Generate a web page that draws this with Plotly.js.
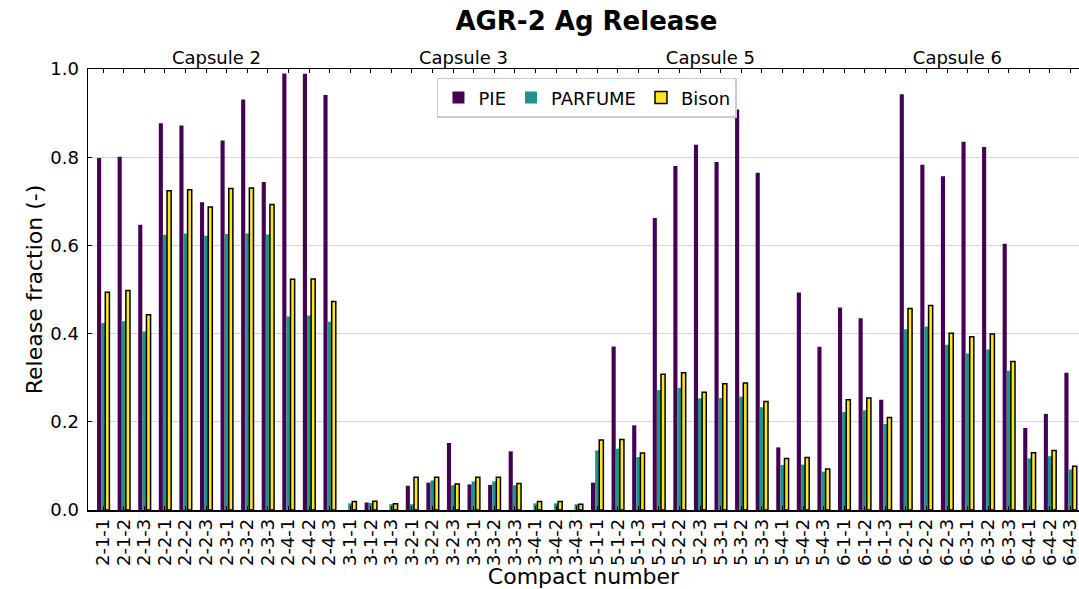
<!DOCTYPE html>
<html>
<head>
<meta charset="utf-8">
<script src="https://cdn.plot.ly/plotly-3.0.1.min.js"></script>
<style>html,body{margin:0;padding:0;background:#fff;}#chart{width:1079px;height:589px;}</style>
</head>
<body>
<div id="chart"></div>
<script>
const compacts = ["2-1-1","2-1-2","2-1-3","2-2-1","2-2-2","2-2-3","2-3-1","2-3-2","2-3-3","2-4-1","2-4-2","2-4-3",
  "3-1-1","3-1-2","3-1-3","3-2-1","3-2-2","3-2-3","3-3-1","3-3-2","3-3-3","3-4-1","3-4-2","3-4-3",
  "5-1-1","5-1-2","5-1-3","5-2-1","5-2-2","5-2-3","5-3-1","5-3-2","5-3-3","5-4-1","5-4-2","5-4-3",
  "6-1-1","6-1-2","6-1-3","6-2-1","6-2-2","6-2-3","6-3-1","6-3-2","6-3-3","6-4-1","6-4-2","6-4-3"];

const pie = [0.798,0.801,0.647,0.877,0.872,0.698,0.838,0.931,0.744,0.990,0.989,0.941,
  0.0,0.017,0.0,0.055,0.062,0.152,0.058,0.057,0.133,0.0,0.0,0.0,
  0.062,0.371,0.192,0.662,0.780,0.828,0.789,0.908,0.765,0.142,0.493,0.370,
  0.459,0.435,0.250,0.943,0.783,0.757,0.835,0.823,0.604,0.186,0.218,0.311];

const parfume = [0.424,0.428,0.405,0.624,0.627,0.622,0.626,0.627,0.625,0.439,0.441,0.427,
  0.015,0.016,0.013,0.013,0.067,0.056,0.065,0.065,0.056,0.015,0.015,0.013,
  0.135,0.139,0.120,0.272,0.277,0.253,0.254,0.257,0.233,0.102,0.103,0.087,
  0.222,0.226,0.195,0.410,0.416,0.375,0.355,0.364,0.316,0.117,0.122,0.092];

const bison = [0.494,0.498,0.443,0.724,0.726,0.687,0.729,0.730,0.693,0.523,0.524,0.473,
  0.019,0.020,0.014,0.074,0.074,0.059,0.074,0.074,0.060,0.019,0.019,0.013,
  0.159,0.160,0.129,0.308,0.311,0.267,0.286,0.288,0.246,0.117,0.119,0.093,
  0.250,0.254,0.210,0.457,0.464,0.401,0.393,0.399,0.337,0.130,0.135,0.099];

const capsules = ["2","3","5","6"];

const idx = compacts.map((c, i) => i);
const capsuleCenters = capsules.map(cap => {
  const ids = idx.filter(i => compacts[i].split("-")[0] === cap);
  return ids.reduce((a, b) => a + b, 0) / ids.length;
});
const capsuleText = capsules.map(c => "Capsule " + c);

const FONT = "DejaVu Sans, sans-serif";

const traces = [
  {type: "bar", name: "PIE", x: idx, y: pie, marker: {color: "#440154", line: {width: 0}}},
  {type: "bar", name: "PARFUME", x: idx, y: parfume, marker: {color: "#21918c", line: {width: 0}}},
  {type: "bar", name: "Bison", x: idx, y: bison, marker: {color: "#fde725", line: {color: "#000000", width: 1.5}}},
  {type: "scatter", x: capsuleCenters, y: capsuleCenters.map(() => null), xaxis: "x2", yaxis: "y", showlegend: false, hoverinfo: "skip", mode: "markers"}
];

const layout = {
  width: 1079, height: 589,
  margin: {l: 88, r: 0, t: 69, b: 79, pad: 0},
  paper_bgcolor: "#ffffff", plot_bgcolor: "#ffffff",
  font: {family: FONT, size: 18, color: "#000000"},
  title: {text: "<b>AGR-2 Ag Release</b>", font: {family: FONT, size: 26, color: "#000"}, x: 0.5435, xanchor: "center", y: 0.965, yanchor: "middle"},
  barmode: "group", bargap: 0.4, bargroupgap: 0,
  xaxis: {
    range: [-0.74, 47.41], tickmode: "array", tickvals: idx, ticktext: compacts,
    tickangle: -90, ticks: "inside", ticklen: 4, tickwidth: 1, tickcolor: "#000",
    showline: true, linecolor: "#000", linewidth: 1.5, mirror: "ticks",
    showgrid: false, zeroline: false, tickfont: {size: 18, family: FONT},
    ticklabeloverflow: "allow",
    title: {text: "Compact number", font: {size: 22, family: FONT}, standoff: 2}
  },
  xaxis2: {
    overlaying: "x", side: "top", range: [-0.74, 47.41], tickmode: "array",
    tickvals: capsuleCenters, ticktext: capsuleText, ticks: "", showline: false,
    showgrid: false, zeroline: false, tickfont: {size: 18, family: FONT}
  },
  yaxis: {
    range: [0, 1.0], tickmode: "array", tickvals: [0, 0.2, 0.4, 0.6, 0.8, 1.0],
    ticktext: ["0.0", "0.2", "0.4", "0.6", "0.8", "1.0"],
    ticks: "inside", ticklen: 4, tickwidth: 1, tickcolor: "#000",
    showline: true, linecolor: "#000", linewidth: 1.5,
    showgrid: true, gridcolor: "#d3d3d3", gridwidth: 1, zeroline: false,
    tickfont: {size: 18, family: FONT}, ticklabelstandoff: 4,
    title: {text: "Release fraction (-)", font: {size: 22, family: FONT}, standoff: 1}
  },
  legend: {
    orientation: "h", x: 0.5035, xanchor: "center", y: 0.98, yanchor: "top",
    bgcolor: "rgba(255,255,255,0.85)", bordercolor: "#cccccc", borderwidth: 1.5,
    font: {size: 18, family: FONT}, itemwidth: 30, traceorder: "normal"
  },
  showlegend: true
};

Plotly.newPlot("chart", traces, layout, {displayModeBar: false, staticPlot: true});
</script>
</body>
</html>
